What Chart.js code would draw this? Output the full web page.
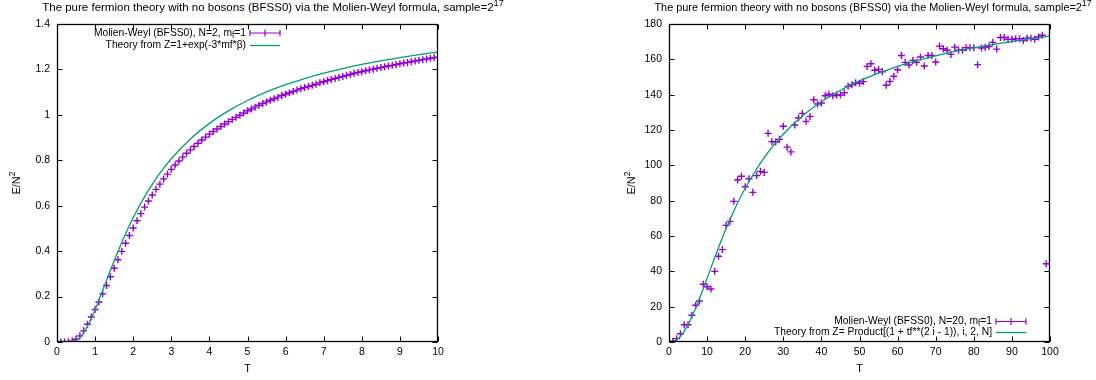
<!DOCTYPE html>
<html>
<head>
<meta charset="utf-8">
<script src="https://cdn.jsdelivr.net/npm/chart.js@4"></script>
<style>
  body { margin: 0; background: #fff; }
  #wrap { position: relative; width: 1096px; height: 380px; }
  .box { position: absolute; top: 0; width: 548px; height: 380px; }
</style>
</head>
<body>
<div id="wrap">
  <div class="box" style="left:0"><canvas id="left"></canvas></div>
  <div class="box" style="left:548px"><canvas id="right"></canvas></div>
</div>
<script>
// ---- left panel: N=2 ----
const leftT = [0.1,0.2,0.3,0.4,0.5,0.6,0.7,0.8,0.9,1.0,
  1.1,1.2,1.3,1.4,1.5,1.6,1.7,1.8,1.9,2.0,
  2.1,2.2,2.3,2.4,2.5,2.6,2.7,2.8,2.9,3.0,
  3.1,3.2,3.3,3.4,3.5,3.6,3.7,3.8,3.9,4.0,
  4.1,4.2,4.3,4.4,4.5,4.6,4.7,4.8,4.9,5.0,
  5.1,5.2,5.3,5.4,5.5,5.6,5.7,5.8,5.9,6.0,
  6.1,6.2,6.3,6.4,6.5,6.6,6.7,6.8,6.9,7.0,
  7.1,7.2,7.3,7.4,7.5,7.6,7.7,7.8,7.9,8.0,
  8.1,8.2,8.3,8.4,8.5,8.6,8.7,8.8,8.9,9.0,
  9.1,9.2,9.3,9.4,9.5,9.6,9.7,9.8,9.9,10.0];
const leftE = [0.000,0.000,0.001,0.004,0.012,0.027,0.049,0.078,0.110,0.143,
  0.176,0.212,0.249,0.287,0.325,0.362,0.399,0.435,0.469,0.502,
  0.534,0.565,0.594,0.621,0.647,0.672,0.695,0.718,0.739,0.760,
  0.779,0.797,0.814,0.831,0.846,0.861,0.875,0.889,0.902,0.915,
  0.927,0.938,0.949,0.960,0.970,0.980,0.989,0.998,1.008,1.018,
  1.026,1.034,1.042,1.050,1.057,1.064,1.071,1.078,1.085,1.091,
  1.097,1.103,1.109,1.115,1.120,1.125,1.130,1.135,1.141,1.146,
  1.151,1.156,1.160,1.165,1.169,1.174,1.178,1.183,1.187,1.190,
  1.194,1.198,1.201,1.205,1.208,1.212,1.215,1.218,1.222,1.225,
  1.228,1.231,1.234,1.237,1.240,1.243,1.246,1.249,1.252,1.254];
const leftCurveT = [0,0.3,0.4,0.5,0.6,0.7,0.8,0.9,1.0,1.2,1.4,1.6,1.8,2.0,2.25,2.5,2.75,3.0,
  3.5,4.0,4.5,5.0,5.5,6.0,6.5,7.0,7.5,8.0,8.5,9.0,9.5,10.0];
const leftCurveE = [0,0.0001,0.0017,0.0074,0.0201,0.0407,0.0689,0.1033,0.1423,0.2276,0.3150,0.3989,0.4766,0.5473,0.6258,0.6944,0.7543,0.8069,
  0.8937,0.9625,1.0176,1.0631,1.1008,1.1326,1.1599,1.1834,1.2040,1.2220,1.2380,1.2523,1.2651,1.2766];

// ---- right panel: N=20 ----
const rightT = [1,2,3,4,5,6,7,8,9,10,11,12,13,14,15,16,17,18,19,20,
  21,22,23,24,25,26,27,28,29,30,31,32,33,34,35,36,37,38,39,40,
  41,42,43,44,45,46,47,48,49,50,51,52,53,54,55,56,57,58,59,60,
  61,62,63,64,65,66,67,68,69,70,71,72,73,74,75,76,77,78,79,80,
  81,82,83,84,85,86,87,88,89,90,91,92,93,94,95,96,97,98,99];
const rightE = [0.4,1.9,4.7,9.8,9.8,15.1,20.8,23.2,32.7,31.3,
  30.0,40.0,48.5,52.3,66.0,68.3,79.6,91.7,93.8,87.9,
  92.4,84.7,94.2,96.6,96.0,118.1,113.4,113.2,114.7,122.1,
  110.3,107.6,122.8,126.8,129.4,124.9,127.7,137.1,134.7,135.3,
  139.4,140.2,139.4,139.8,139.8,141.1,144.7,145.6,146.7,146.5,
  147.4,156.0,157.5,153.8,154.3,153.0,145.3,147.5,150.4,154.1,
  162.2,158.3,156.8,159.4,158.3,161.3,156.2,162.2,162.2,158.5,
  167.5,166.0,165.1,162.8,166.9,165.1,165.1,166.6,166.6,166.6,
  157.0,166.4,166.9,167.3,169.6,165.8,172.4,172.4,171.3,171.3,
  171.7,171.7,170.7,172.0,172.0,171.3,172.6,173.6,44.3];
const rightCurveT = [0,1,2,3,4,5,7.5,10,12.5,15,17.5,20,25,30,35,40,45,50,60,70,80,90,100];
const rightCurveE = [0,0.18,1.31,3.33,6.18,9.84,21.85,36.16,50.7,64.25,76.4,87.0,104.4,117.6,127.9,136.0,142.5,147.8,156.0,162.0,166.6,170.1,173.1];

const titleParts = [['The pure fermion theory with no bosons (BFSS0) via the Molien-Weyl formula, sample=2', 0], ['17', 1]];
const yLabelParts = [['E/N', 0], ['2', 1]];

const PURPLE = '#9400d3';
const GREEN = '#009e73';
const FONT = '"Liberation Sans", Arial, sans-serif';

// draw text with super/subscripts; k = 1 sup, -1 sub
function richText(ctx, parts, x, y, align, size) {
  let w = 0;
  parts.forEach(([s, k]) => {
    ctx.font = (k ? size * 0.8 : size) + 'px ' + FONT;
    w += ctx.measureText(s).width;
  });
  let cx = align === 'right' ? x - w : align === 'center' ? x - w / 2 : x;
  ctx.textAlign = 'left';
  ctx.textBaseline = 'middle';
  parts.forEach(([s, k]) => {
    ctx.font = (k ? size * 0.8 : size) + 'px ' + FONT;
    ctx.fillText(s, cx, y - (k > 0 ? size * 0.42 : k < 0 ? -size * 0.25 : 0));
    cx += ctx.measureText(s).width;
  });
}

// gnuplot-like frame: box, inward ticks, titles, legend
const gnuFrame = {
  id: 'gnuFrame',
  afterDraw(chart, args, o) {
    const {ctx, chartArea: a, scales: {x, y}} = chart;
    const L = Math.round(a.left) + 0.5, R = Math.round(a.right) - 0.5;
    const T = Math.round(a.top) + 0.5, B = Math.round(a.bottom) - 0.5;
    ctx.save();
    ctx.strokeStyle = '#000';
    ctx.lineWidth = 1;
    ctx.beginPath();
    x.ticks.forEach(t => {
      const px = Math.round(x.getPixelForValue(t.value)) + 0.5;
      ctx.moveTo(px, B); ctx.lineTo(px, B - 5);
      ctx.moveTo(px, T); ctx.lineTo(px, T + 5);
    });
    y.ticks.forEach(t => {
      const py = Math.round(y.getPixelForValue(t.value)) + 0.5;
      ctx.moveTo(L, py); ctx.lineTo(L + 5, py);
      ctx.moveTo(R, py); ctx.lineTo(R - 5, py);
    });
    ctx.stroke();
    ctx.lineWidth = 1.3;
    ctx.strokeRect(L, T, R - L, B - T);

    ctx.fillStyle = '#000';
    richText(ctx, titleParts, o.titleX, 8, 'center', o.titleSize);
    richText(ctx, [['T', 0]], (a.left + a.right) / 2, 369, 'center', 11);
    ctx.save();
    ctx.translate(o.yLabelX, (a.top + a.bottom) / 2);
    ctx.rotate(-Math.PI / 2);
    richText(ctx, yLabelParts, 0, 0, 'center', 11);
    ctx.restore();

    // legend
    const lg = o.legend;
    richText(ctx, lg.rows[0], lg.textRight, lg.y0, 'right', 10.3);
    richText(ctx, lg.rows[1], lg.textRight, lg.y1, 'right', 10.3);
    const s0 = lg.textRight + 4, s1 = s0 + 30;
    ctx.strokeStyle = PURPLE;
    ctx.lineWidth = 1.2;
    ctx.beginPath();
    ctx.moveTo(s0, lg.y0); ctx.lineTo(s1, lg.y0);
    ctx.moveTo(s0, lg.y0 - 3); ctx.lineTo(s0, lg.y0 + 3);
    ctx.moveTo(s1, lg.y0 - 3); ctx.lineTo(s1, lg.y0 + 3);
    const m = (s0 + s1) / 2;
    ctx.moveTo(m, lg.y0 - 3.5); ctx.lineTo(m, lg.y0 + 3.5);
    ctx.stroke();
    ctx.strokeStyle = GREEN;
    ctx.lineWidth = 1.3;
    ctx.beginPath();
    ctx.moveTo(s0, lg.y1); ctx.lineTo(s1, lg.y1);
    ctx.stroke();
    ctx.restore();
  }
};

function pts(xs, ys) { return xs.map((v, i) => ({x: v, y: ys[i]})); }

function makeChart(id, cfg) {
  return new Chart(document.getElementById(id), {
    type: 'scatter',
    data: {
      datasets: [{
        label: 'theory',
        data: pts(cfg.curveT, cfg.curveE),
        showLine: true,
        borderColor: GREEN,
        borderWidth: 1.3,
        pointRadius: 0,
        cubicInterpolationMode: 'monotone',
        order: 0
      }, {
        label: 'data',
        data: pts(cfg.t, cfg.e),
        pointStyle: 'cross',
        pointRadius: 3.5,
        borderColor: PURPLE,
        backgroundColor: PURPLE,
        pointBorderWidth: 1.4,
        order: 1
      }]
    },
    options: {
      responsive: true,
      maintainAspectRatio: false,
      animation: false,
      layout: {padding: {top: 24, right: cfg.padRight, left: 0, bottom: 0}},
      plugins: {
        legend: {display: false},
        tooltip: {enabled: false},
        gnuFrame: cfg.frame
      },
      scales: {
        x: {
          type: 'linear', min: 0, max: cfg.xMax,
          grid: {display: false, drawTicks: false}, border: {display: false},
          ticks: {stepSize: cfg.xStep, color: '#000', padding: 4, font: {family: FONT, size: 10.5}, maxRotation: 0},
          afterFit: s => { s.height = 38; }
        },
        y: {
          min: 0, max: cfg.yMax,
          grid: {display: false, drawTicks: false}, border: {display: false},
          ticks: {stepSize: cfg.yStep, color: '#000', padding: 7, font: {family: FONT, size: 10.5},
            callback: v => String(+v.toFixed(1))},
          afterFit: s => { s.width = cfg.axisW; }
        }
      }
    },
    plugins: [gnuFrame]
  });
}

makeChart('left', {
  t: leftT, e: leftE, curveT: leftCurveT, curveE: leftCurveE,
  xMax: 10, xStep: 1, yMax: 1.4, yStep: 0.2, axisW: 57, padRight: 110,
  frame: {
    titleX: 273, titleSize: 11.5, yLabelX: 17,
    legend: {
      textRight: 246, y0: 33, y1: 45.5,
      rows: [[['Molien-Weyl (BFSS0), N=2, m', 0], ['f', -1], ['=1', 0]],
             [['Theory from Z=1+exp(-3*mf*β)', 0]]]
    }
  }
});

makeChart('right', {
  t: rightT, e: rightE, curveT: rightCurveT, curveE: rightCurveE,
  xMax: 100, xStep: 10, yMax: 180, yStep: 20, axisW: 121, padRight: 46,
  frame: {
    titleX: 325, titleSize: 10.9, yLabelX: 84,
    legend: {
      textRight: 444, y0: 321.5, y1: 332.5,
      rows: [[['Molien-Weyl (BFSS0), N=20, m', 0], ['f', -1], ['=1', 0]],
             [['Theory from Z= Product[(1 + tf**(2 i - 1)), i, 2, N]', 0]]]
    }
  }
});
</script>
</body>
</html>
